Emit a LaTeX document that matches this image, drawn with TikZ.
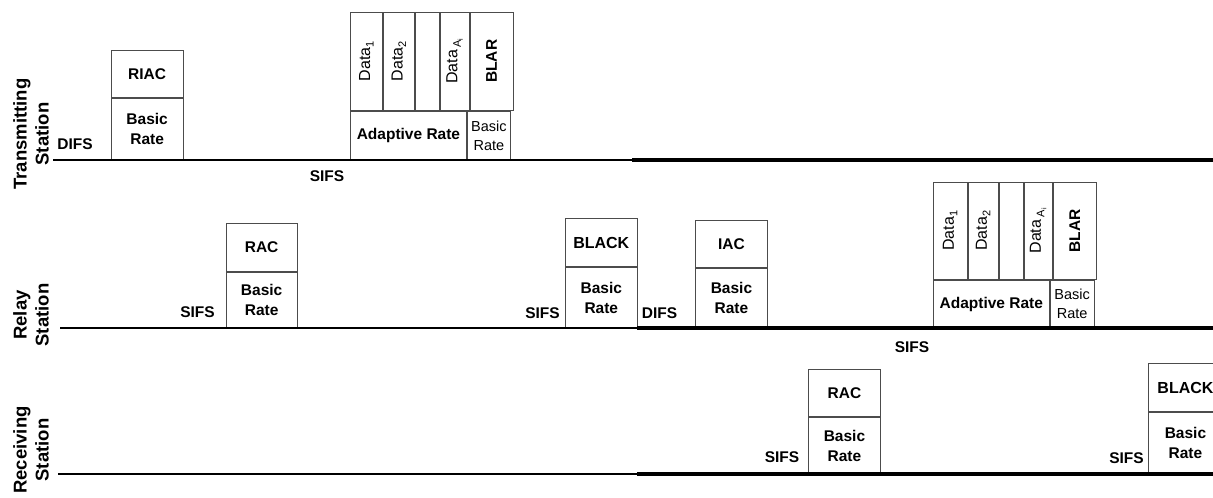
\documentclass[tikz,border=0pt]{standalone}
\usepackage{fontspec}
\setmainfont{Liberation Sans}
\newcommand{\subA}[1]{\raisebox{-3.5pt}{\fontsize{11}{11}\selectfont #1}}
\newcommand{\subB}[1]{\raisebox{-2pt}{\fontsize{7}{7}\selectfont #1}}
\begin{document}
\begin{tikzpicture}[x=1pt,y=-1pt,
  box/.style={draw=black!70, line width=0.9pt, inner sep=0pt, anchor=south west, align=center,
    font=\fontsize{15.5}{20}\selectfont\bfseries},
  sbox/.style={box, font=\fontsize{14.5}{19}\selectfont},
  col/.style={draw=black!70, line width=0.9pt, inner sep=0pt, anchor=south west},
  dlab/.style={rotate=90, inner sep=0pt, font=\fontsize{16}{18}\selectfont},
  blab/.style={rotate=90, inner sep=0pt, font=\fontsize{15.5}{18}\selectfont\bfseries},
  gap/.style={inner sep=0pt, font=\fontsize{15.5}{18}\selectfont\bfseries},
  station/.style={rotate=90, align=center, inner sep=0pt, font=\fontsize{18.5}{22}\selectfont\bfseries},
  tline/.style={line width=2.6pt, black},
  tlinethick/.style={line width=3.4pt, black}]
\useasboundingbox (0,0) rectangle (1213,498);

% ---------- station labels ----------
\node[station] (lt) at (31,134) {Transmitting\\Station};
\node[station] (lr) at (31,315) {Relay\\Station};
\node[station] (lrc) at (31,450) {Receiving\\Station};

% ---------- Transmitting station ----------
\node[gap] (tdifs) at (75,144) {DIFS};
\node[box, minimum width=72, minimum height=61] (riacR) at (110.7,160) {Basic\\Rate};
\node[box, minimum width=72, minimum height=47.3] (riac) at (riacR.north west) {RIAC};

\node[box, minimum width=116, minimum height=48.3] (tAR) at (350,160) {Adaptive Rate};
\node[sbox, minimum width=43, minimum height=48.3] (tBR) at (tAR.south east) {Basic\\Rate};
\node[col, minimum width=32, minimum height=98.4] (tc1) at (tAR.north west) {};
\node[col, minimum width=31, minimum height=98.4] (tc2) at (tc1.south east) {};
\node[col, minimum width=24, minimum height=98.4] (tc3) at (tc2.south east) {};
\node[col, minimum width=29, minimum height=98.4] (tc4) at (tc3.south east) {};
\node[col, minimum width=43, minimum height=98.4] (tc5) at (tc4.south east) {};
\node[dlab] (td1) at (tc1.center) {Data\subA{1}};
\node[dlab] (td2) at (tc2.center) {Data\subA{2}};
\node[dlab] (td4) at (tc4.center) {Data\,\subA{A\subB{i}}};
\node[blab] (tblar) at (tc5.center) {BLAR};
\node[gap] (tsifs) at (327,176) {SIFS};

% ---------- Relay station ----------
\node[gap] (rsifs1) at (197.5,312) {SIFS};
\node[box, minimum width=71, minimum height=55] (racR) at (225.7,328) {Basic\\Rate};
\node[box, minimum width=71, minimum height=48] (rac) at (racR.north west) {RAC};

\node[gap] (rsifs2) at (542.5,313) {SIFS};
\node[box, minimum width=71.7, minimum height=60] (blackR) at (565,328) {Basic\\Rate};
\node[box, minimum width=71.7, minimum height=48, font=\fontsize{16}{20}\selectfont\bfseries] (black) at (blackR.north west) {BLACK};
\node[gap] (rdifs) at (659.5,313) {DIFS};
\node[box, minimum width=72, minimum height=59] (iacR) at (695,328) {Basic\\Rate};
\node[box, minimum width=72, minimum height=47.3] (iac) at (iacR.north west) {IAC};

\node[box, minimum width=116.3, minimum height=47] (rAR) at (932.7,328) {Adaptive Rate};
\node[sbox, minimum width=43.7, minimum height=47] (rBR) at (rAR.south east) {Basic\\Rate};
\node[col, minimum width=34, minimum height=97.7] (rc1) at (rAR.north west) {};
\node[col, minimum width=30, minimum height=97.7] (rc2) at (rc1.south east) {};
\node[col, minimum width=24.3, minimum height=97.7] (rc3) at (rc2.south east) {};
\node[col, minimum width=28, minimum height=97.7] (rc4) at (rc3.south east) {};
\node[col, minimum width=43.7, minimum height=97.7] (rc5) at (rc4.south east) {};
\node[dlab] (rd1) at (rc1.center) {Data\subA{1}};
\node[dlab] (rd2) at (rc2.center) {Data\subA{2}};
\node[dlab] (rd4) at (rc4.center) {Data\,\subA{A\subB{i}}};
\node[blab] (rblar) at (rc5.center) {BLAR};
\node[gap] (rsifs3) at (912,347) {SIFS};

% ---------- Receiving station ----------
\node[gap] (csifs1) at (782,457) {SIFS};
\node[box, minimum width=72, minimum height=56] (cracR) at (808,474) {Basic\\Rate};
\node[box, minimum width=72, minimum height=47.3] (crac) at (cracR.north west) {RAC};

\node[gap] (csifs2) at (1126.5,458) {SIFS};
\node[box, minimum width=74, minimum height=61] (cblackR) at (1148,474) {Basic\\Rate};
\node[box, minimum width=74, minimum height=48, font=\fontsize{16}{20}\selectfont\bfseries] (cblack) at (cblackR.north west) {BLACK};

% ---------- time lines ----------
\coordinate (t0) at (53,160);  \coordinate (t1) at (632,160); \coordinate (t2) at (1213,160);
\coordinate (r0) at (60,328);  \coordinate (r1) at (637,328); \coordinate (r2) at (1213,328);
\coordinate (c0) at (58,474);  \coordinate (c1) at (637,474); \coordinate (c2) at (1213,474);
\draw[tline] (t0) -- (t1); \draw[tlinethick] (t1) -- (t2);
\draw[tline] (r0) -- (r1); \draw[tlinethick] (r1) -- (r2);
\draw[tline] (c0) -- (c1); \draw[tlinethick] (c1) -- (c2);
\end{tikzpicture}
\end{document}
